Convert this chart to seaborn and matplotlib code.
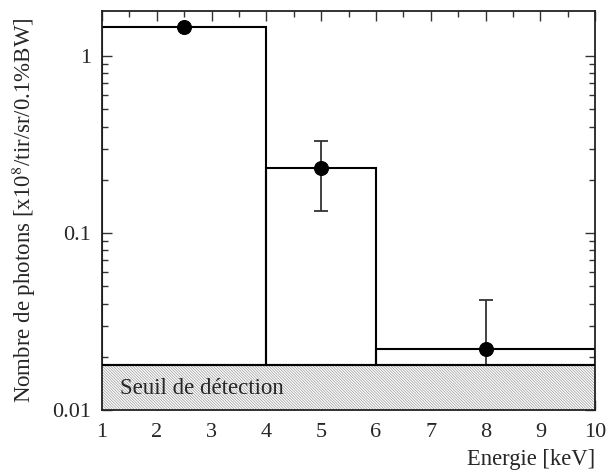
import numpy as np
import pandas as pd
import matplotlib
matplotlib.use("Agg")
import matplotlib.pyplot as plt
import seaborn as sns
from matplotlib.ticker import MultipleLocator, LogLocator, NullFormatter, FixedLocator, FixedFormatter

# Data
bin_edges = [1, 4, 6, 10]
bin_values = [1.46, 0.233, 0.022]
point_x = [2.5, 5, 8]
point_y = [1.46, 0.233, 0.022]
err_low = [1.46, 0.133, 0.018]
err_high = [1.46, 0.33, 0.042]
threshold = 0.018
y_ticks = [0.01, 0.1, 1]
y_ticklabels = ["0.01", "0.1", "1"]
x_ticks = [1, 2, 3, 4, 5, 6, 7, 8, 9, 10]

sns.set_style("ticks")
plt.rcParams["font.family"] = ["Liberation Serif", "DejaVu Serif"]
plt.rcParams["mathtext.fontset"] = "stix"
plt.rcParams["hatch.color"] = "#9a9a9a"
plt.rcParams["hatch.linewidth"] = 0.5

fig = plt.figure(figsize=(6.11, 4.73), dpi=100)
ax = fig.add_axes([0.167, 0.133, 0.807, 0.844])

ax.set_yscale("log")
ax.set_xlim(1, 10)
ax.set_ylim(0.01, 1.8)

# detection threshold hatched band
ax.fill_between([1, 10], 0.01, threshold, facecolor="white", edgecolor="#9a9a9a",
                hatch="\\" * 12, linewidth=0, zorder=1)
ax.axhline(threshold, color="black", lw=1.5, zorder=3)
ax.text(1.32, 0.0133, "Seuil de détection", fontsize=16.5, va="center", ha="left", zorder=4)

# histogram bars (outline only) standing on the threshold
lefts = np.array(bin_edges[:-1], dtype=float)
widths = np.diff(bin_edges).astype(float)
heights = np.array(bin_values) - threshold
ax.bar(lefts, heights, width=widths, bottom=threshold, align="edge", fill=False,
       edgecolor="black", linewidth=1.5, zorder=2)

# error bars
df = pd.DataFrame({"x": point_x, "y": point_y})
yerr = np.array([np.array(point_y) - np.array(err_low), np.array(err_high) - np.array(point_y)])
ax.errorbar(point_x, point_y, yerr=yerr, fmt="none", ecolor="#333333", elinewidth=1.3,
            capsize=5, capthick=1.3, zorder=2)
sns.scatterplot(data=df, x="x", y="y", ax=ax, color="black", s=100, edgecolor="black",
                zorder=5, legend=False)

# ticks
ax.xaxis.set_major_locator(FixedLocator(x_ticks))
ax.xaxis.set_minor_locator(MultipleLocator(0.5))
ax.yaxis.set_major_locator(FixedLocator(y_ticks))
ax.yaxis.set_major_formatter(FixedFormatter(y_ticklabels))
ax.yaxis.set_minor_locator(LogLocator(base=10, subs=np.arange(2, 10)))
ax.yaxis.set_minor_formatter(NullFormatter())
ax.tick_params(which="both", direction="in", top=True, right=True, labelsize=16,
               width=1.0, color="#333333")
ax.tick_params(which="major", length=7)
ax.tick_params(which="minor", length=4)
ax.tick_params(axis="x", pad=9)
ax.tick_params(axis="y", pad=8)

for s in ax.spines.values():
    s.set_linewidth(1.3)
    s.set_color("#222222")

ax.set_xlabel("Energie [keV]", fontsize=16.3, loc="right", labelpad=5)
ax.set_ylabel("Nombre de photons [x10$^{8}$/tir/sr/0.1%BW]", fontsize=16.5, labelpad=10)

fig.savefig("out.png", dpi=100)
